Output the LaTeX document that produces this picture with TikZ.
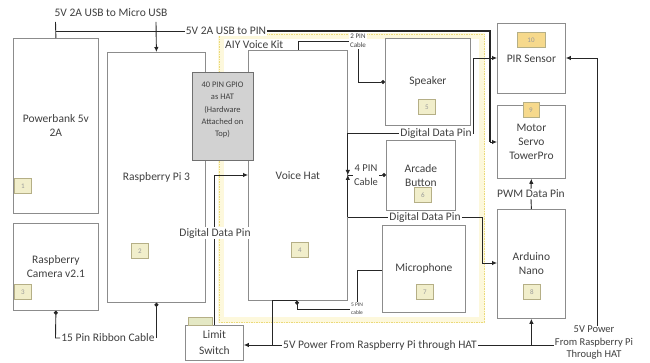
\documentclass[tikz,border=0pt]{standalone}
\usepackage{fontspec}
\setmainfont{Carlito}
\usetikzlibrary{arrows.meta,calc}
\definecolor{boxline}{HTML}{8C8C8C}
\definecolor{txt}{HTML}{404040}
\definecolor{numfill}{HTML}{F1EECB}
\definecolor{numline}{HTML}{B5AF86}
\definecolor{orfill}{HTML}{F6D98C}
\definecolor{aiy}{HTML}{EBDA7A}
\definecolor{aiyband}{HTML}{FDF8DC}
\definecolor{gpiofill}{HTML}{D2D2D2}
\definecolor{lsfill}{HTML}{E4E8C4}
\begin{document}
\begin{tikzpicture}[x=1pt,y=-1pt,
  box/.style={draw=boxline, line width=0.8pt, fill=white, text=txt, align=center,
    font=\fontsize{11.5}{14}\selectfont, inner sep=1pt, anchor=north west},
  num/.style={draw=numline, line width=0.6pt, fill=numfill, minimum width=17pt, minimum height=15pt,
    inner sep=0pt, text=black!40, font=\fontsize{7}{8}\selectfont},
  conn/.style={line width=0.9pt, draw=black!85},
  lbl/.style={fill=white, text=txt, inner sep=1pt, font=\fontsize{11.5}{14}\selectfont, align=center},
  arr/.style={-{Latex[length=5pt,width=4.5pt]}},
  dot/.style={-{Circle[length=4pt]}},
]
\useasboundingbox (0,0) rectangle (650,363);
\fill[white] (0,0) rectangle (650,363);

% AIY voice kit frame
\draw[aiyband, line width=6pt] (221,36) rectangle (482,320);
\draw[aiy, line width=0.8pt, dash pattern=on 1.5pt off 1pt] (219,34) rectangle (484,322);
\node[lbl, fill=none, anchor=west] (aiylbl) at (224,45) {AIY Voice Kit};

% boxes
\node[box, minimum width=85pt, minimum height=175pt] (pb) at (13,38) {Powerbank 5v\\2A};
\node[box, minimum width=85pt, minimum height=87pt] (cam) at (13,223) {Raspberry\\Camera v2.1};
\node[box, minimum width=98pt, minimum height=250pt] (pi) at (107,52) {Raspberry Pi 3};
\node[box, minimum width=99pt, minimum height=250pt] (vh) at (248,50) {Voice Hat};
\node[box, draw=boxline!80!black, fill=gpiofill, minimum width=61pt, minimum height=88pt] (gpio) at (192,72) {};
\node[text=txt, align=center, font=\fontsize{8.5}{12.3}\selectfont] (gpiotxt) at (222.5,110)
  {40 PIN GPIO\\as HAT\\(Hardware\\Attached on\\Top)};
\node[box, minimum width=85pt, minimum height=87pt] (sp) at (385,38) {Speaker};
\node[box, minimum width=69pt, minimum height=70pt] (arc) at (386,140) {Arcade\\Button};
\node[box, minimum width=83pt, minimum height=87pt] (mic) at (382,225) {Microphone};
\node[box, minimum width=68pt, minimum height=70pt] (pir) at (497,23) {PIR Sensor};
\node[box, minimum width=68pt, minimum height=73pt] (mot) at (497,105) {Motor\\Servo\\TowerPro};
\node[box, minimum width=68pt, minimum height=109pt] (ard) at (497,209) {Arduino\\Nano};
\node[box, minimum width=58pt, minimum height=35pt, font=\fontsize{11.5}{16}\selectfont] (ls) at (185,325) {Limit\\Switch};

% number tags
\node[num] (n1) at (23,186) {1};
\node[num] (n3) at (23,292) {3};
\node[num] (n2) at (140,251) {2};
\node[num] (n4) at (300,250) {4};
\node[num] (n5) at (427,107) {5};
\node[num] (n6) at (423,195) {6};
\node[num] (n7) at (425,292) {7};
\node[num] (n8) at (532,292) {8};
\node[num, fill=orfill, minimum width=16pt] (n9) at (531,110) {9};
\node[num, fill=orfill, minimum width=28pt] (n10) at (531,40) {10};
\node[num, fill=lsfill, minimum width=24pt, minimum height=8pt] (nls) at (200,321) {};

% labels on connectors
\node[lbl] (usbmicro) at (111,13) {5V 2A USB to Micro USB};
\node[lbl] (usbpin) at (226,31) {5V 2A USB to PIN};
\node[lbl] (rib) at (108,338) {15 Pin Ribbon Cable};
\node[lbl] (ddp0) at (215,233) {Digital Data Pin};
\node[lbl, font=\fontsize{7}{9}\selectfont] (spcab) at (358,41) {2 PIN\\Cable};
\node[lbl, font=\fontsize{10.5}{14}\selectfont] (pin4) at (366,175) {4 PIN\\Cable};
\node[lbl] (ddp1) at (436,133) {Digital Data Pin};
\node[lbl] (ddp2) at (425,217) {Digital Data Pin};
\node[lbl, font=\fontsize{5.5}{8}\selectfont] (pin3) at (357,309) {5 PIN\\cable};
\node[lbl] (pwm) at (531,194) {PWM Data Pin};
\node[lbl] (pw1) at (380,345) {5V Power From Raspberry Pi through HAT};
\node[lbl, font=\fontsize{10.5}{12.5}\selectfont, inner sep=0.5pt] (pw2) at (594,343) {5V Power\\From Raspberry Pi\\Through HAT};

% bend coordinates
\coordinate (u0) at (55.5,22);
\coordinate (u1) at (55.5,31);
\coordinate (u3) at (156,22);
\coordinate (t1) at (490,31);
\coordinate (t2) at (490,142);
\coordinate (r1) at (55.5,338);
\coordinate (c1) at (214,175);
\coordinate (s1) at (298,41);
\coordinate (s2) at (358,82);
\coordinate (p1) at (473,133);
\coordinate (p2) at (473,58);
\coordinate (a1) at (482,217);
\coordinate (a2) at (482,263);
\coordinate (m1) at (357,270);
\coordinate (m2) at (297,309);
\coordinate (w0) at (297,300);
\coordinate (w1) at (272,300);
\coordinate (w2) at (272,345);
\coordinate (w4) at (597,58);

% power from powerbank
\draw[conn] (pb.north) -- (u0);
\draw[conn] (u1) -- (usbpin.west);
\draw[conn,arr] (u3) -- (pi.north);
\draw[conn, line width=1.4pt] (usbpin.east) -- (t1) -- (t2);
\draw[conn,arr] (t2) -- (mot.west |- t2);

% ribbon cable
\draw[conn,dot] (rib.west) -- (r1) -- (cam.south);
\draw[conn,dot] (pi.south |- rib.east) -- (pi.south);

% limit switch data
\draw[conn] (ls.north -| c1) -- (ddp0.south -| c1);
\draw[conn,arr] (ddp0.north -| c1) -- (c1) -- (vh.west |- c1);

% speaker
\draw[conn] (vh.north -| s1) -- (s1) -- (spcab.west);
\draw[conn,dot] (spcab.south -| s2) -- (s2) -- (sp.west |- s2);

% bus on voice hat right
\draw[conn,arr] (vh.east |- ddp1) -- (vh.east |- pin4);
\draw[conn,arr] (vh.east |- ddp2) -- (vh.east |- pin4);
\draw[conn] (vh.east |- pin4) -- (pin4.west);
\draw[conn,dot] (pin4.east) -- (arc.west |- pin4.east);

% digital data to PIR
\draw[conn] (vh.east |- ddp1) -- (ddp1.west);
\draw[conn,arr] (ddp1.east) -- (p1) -- (p2) -- (pir.west |- p2);

% digital data to Arduino
\draw[conn] (vh.east |- ddp2) -- (ddp2.west);
\draw[conn,arr] (ddp2.east) -- (a1) -- (a2) -- (ard.west |- a2);

% microphone
\draw[conn] (mic.west |- m1) -- (m1) -- (pin3.north -| m1);
\draw[conn,dot] (pin3.west) -- (m2) -- (vh.south -| m2);

% 5V power
\draw[conn] (w0) -- (w1) -- (w2) -- (pw1.west);
\draw[conn,arr] (w2) -- (ls.east |- w2);
\draw[conn] (pw1.east) -- (pw2.west |- pw1.east);
\draw[conn,arr] (ard.south |- pw1.east) -- (ard.south);
\draw[conn,arr] (pw2.north -| w4) -- (w4) -- (pir.east |- w4);

% PWM
\draw[conn] (ard.north) -- (pwm.south);
\draw[conn,arr] (pwm.north) -- (mot.south);
\end{tikzpicture}
\end{document}
